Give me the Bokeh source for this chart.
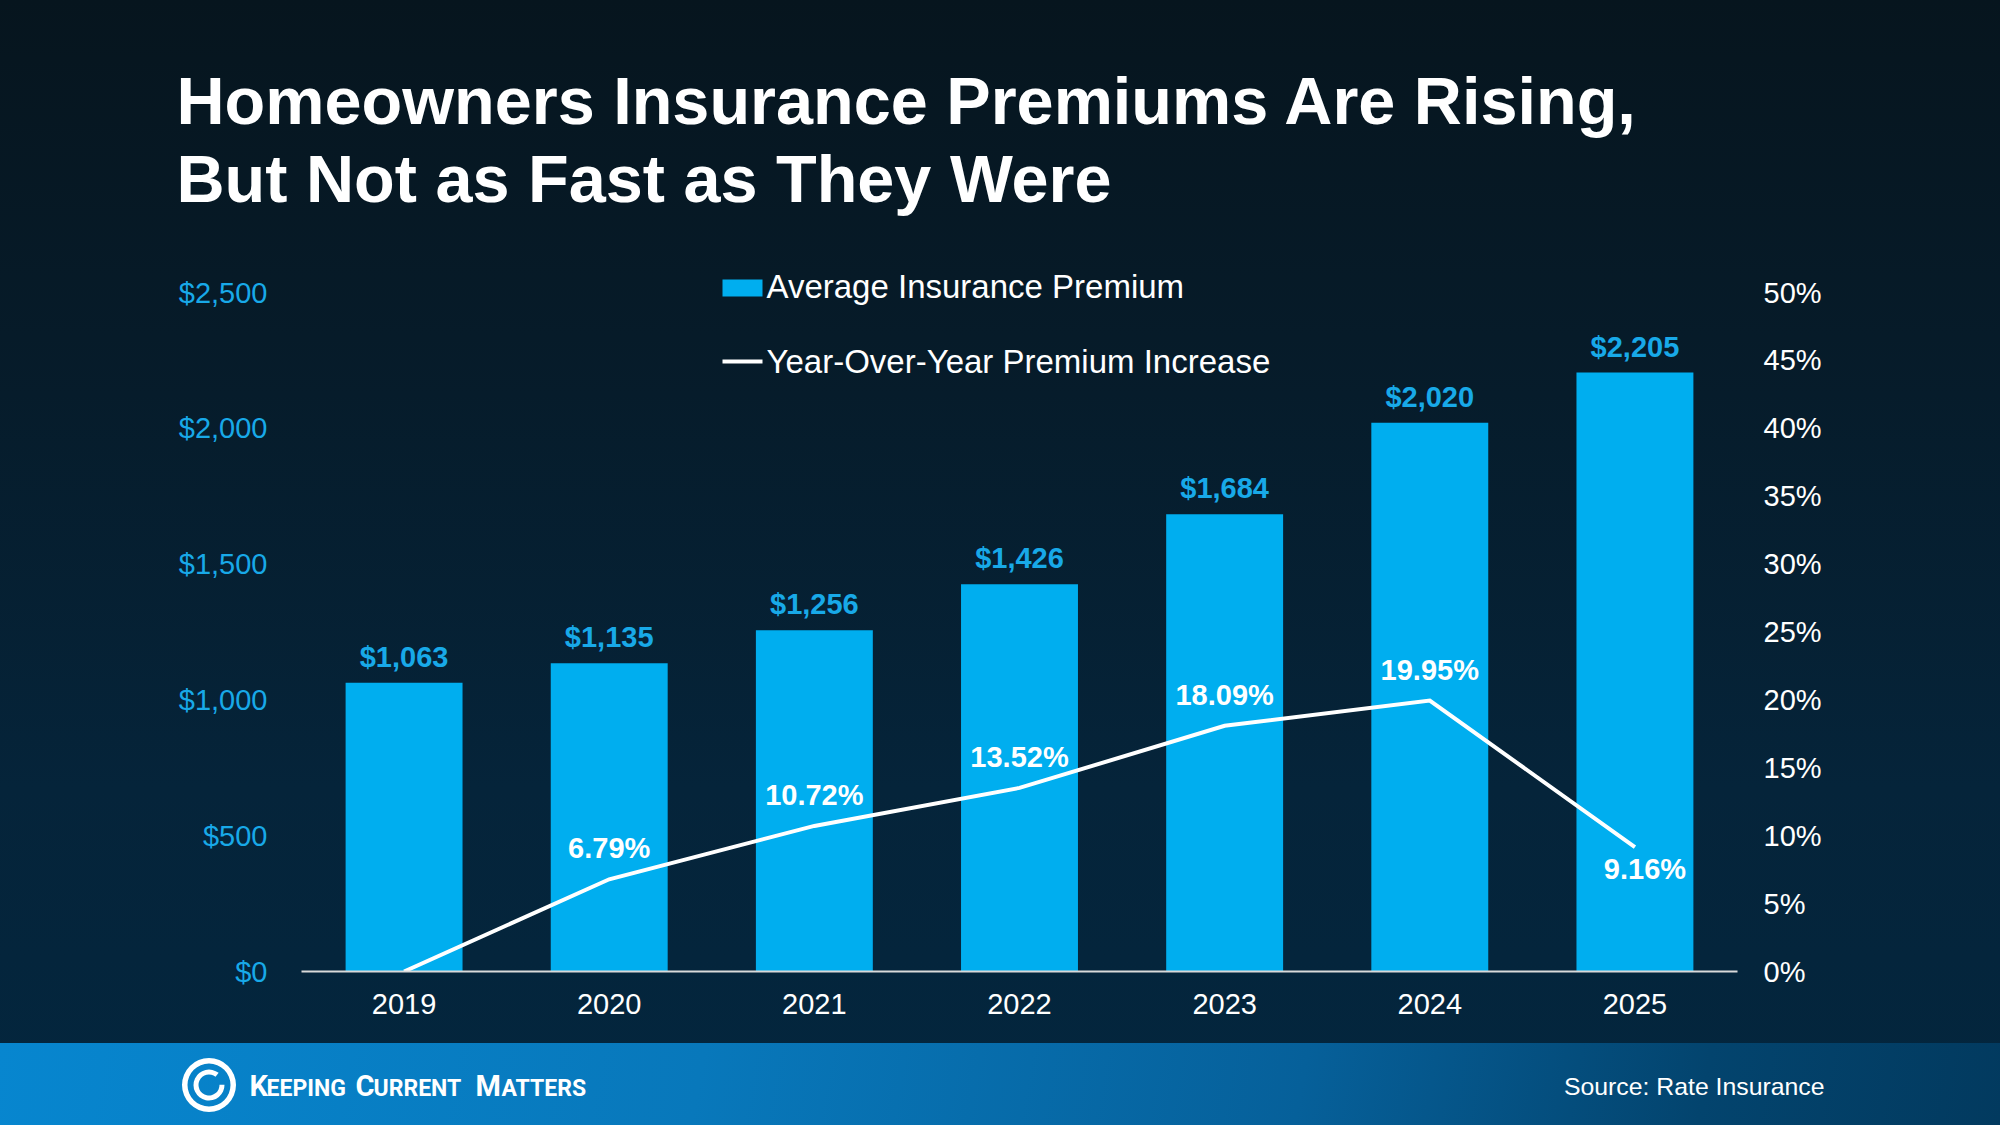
from bokeh.plotting import figure
from bokeh.layouts import column
from bokeh.models import (ColumnDataSource, Range1d, LinearAxis, FixedTicker,
                          NumeralTickFormatter, PrintfTickFormatter, LabelSet,
                          BoxAnnotation)
from bokeh.core.properties import value
from bokeh.embed import file_html
from bokeh.resources import INLINE

# ---------------- data ----------------
years = ["2019", "2020", "2021", "2022", "2023", "2024", "2025"]
premiums = [1063, 1135, 1256, 1426, 1684, 2020, 2205]
yoy_increase = [0.0, 6.79, 10.72, 13.52, 18.09, 19.95, 9.16]
premium_ticks = [0, 500, 1000, 1500, 2000, 2500]
pct_ticks = [0, 5, 10, 15, 20, 25, 30, 35, 40, 45, 50]
title_lines = ["Homeowners Insurance Premiums Are Rising,", "But Not as Fast as They Were"]
legend_labels = ["Average Insurance Premium", "Year-Over-Year Premium Increase"]
source_note = "Source: Rate Insurance"
brand_caps = ["K", "C", "M"]
brand_rest = ["EEPING", "URRENT", "ATTERS"]

# ---------------- page geometry (px) ----------------
W, H = 2000, 1125
TOP_H = 235            # title strip
FOOT_TOP = 1043        # footer band starts
FL, FR = 301, 1737     # plot frame left / right
FT, FB = 250, 971      # plot frame top / bottom (x axis line)
Y2500 = 292            # pixel row of the top tick
BLUE = "#00AEEF"
LBLUE = "#18A9E8"
FONT = "Liberation Sans"

def bare(fig):
    fig.background_fill_color = None
    fig.border_fill_color = None
    fig.outline_line_color = None
    fig.grid.visible = False
    try:
        fig.frame_align = False
    except Exception:
        pass
    return fig

# ---------------- title strip ----------------
t = bare(figure(width=W, height=TOP_H, x_range=Range1d(0, W), y_range=Range1d(TOP_H, 0),
                x_axis_location=None, y_axis_location=None, min_border=0,
                output_backend="svg", toolbar_location=None, title=None))
tsrc = ColumnDataSource(dict(x=[176, 176], y=[123.7, 201.5], text=title_lines))
t.add_layout(LabelSet(x="x", y="y", text="text", source=tsrc, text_align="left",
                      text_baseline="alphabetic", text_font=value(FONT),
                      text_font_size=value("66.6px"), text_font_style="bold",
                      text_color="white"))

# ---------------- main chart ----------------
n = len(years)
xpos = [i + 0.5 for i in range(n)]
stretch = (FB - FT) / (FB - Y2500)
MAIN_H = FOOT_TOP - TOP_H
p = bare(figure(width=W, height=MAIN_H, x_range=Range1d(0, n),
                y_range=Range1d(0, 2500 * stretch),
                output_backend="svg", toolbar_location=None, title=None,
                min_border_left=FL, min_border_right=W - FR,
                min_border_top=FT - TOP_H, min_border_bottom=FOOT_TOP - FB))
p.extra_y_ranges = {"pct": Range1d(0, 50 * stretch), "py": Range1d(FB, FT)}
p.extra_x_ranges = {"px": Range1d(FL, FR)}

src = ColumnDataSource(dict(x=xpos, premium=premiums, yoy=yoy_increase,
                            plabel=[f"${v:,}" for v in premiums]))
p.vbar(x="x", top="premium", width=0.57, source=src, fill_color=BLUE, line_color=None)
p.line(x="x", y="yoy", source=src, y_range_name="pct", line_color="white",
       line_width=4, line_join="miter")

ly = p.yaxis[0]
ly.ticker = FixedTicker(ticks=premium_ticks)
ly.formatter = NumeralTickFormatter(format="$0,0")
ry = LinearAxis(y_range_name="pct", ticker=FixedTicker(ticks=pct_ticks),
                formatter=PrintfTickFormatter(format="%d%%"))
p.add_layout(ry, "right")
xa = p.xaxis[0]
xa.ticker = FixedTicker(ticks=xpos)
xa.major_label_overrides = {x: y for x, y in zip(xpos, years)}
for ax, col, so in ((ly, LBLUE, 34), (ry, "white", 26), (xa, "white", 22)):
    ax.axis_line_color = None
    ax.major_tick_line_color = None
    ax.minor_tick_line_color = None
    ax.major_tick_out = 0
    ax.major_tick_in = 0
    ax.minor_tick_out = 0
    ax.major_label_standoff = so
    ax.major_label_text_color = col
    ax.major_label_text_font = FONT
    ax.major_label_text_font_size = "29px"
xa.axis_line_color = "#d9d9d9"
xa.axis_line_width = 2

p.add_layout(LabelSet(x="x", y="premium", text="plabel", source=src,
                      text_align="center", text_baseline="alphabetic", y_offset=16,
                      text_font=value(FONT), text_font_size=value("29px"),
                      text_font_style="bold", text_color=LBLUE))

up = [i for i in range(1, n) if yoy_increase[i] >= yoy_increase[i - 1]]
down = [i for i in range(1, n) if yoy_increase[i] < yoy_increase[i - 1]]
for idx, yoff, xoff in ((up, 21, 0), (down, -32, 10)):
    s = ColumnDataSource(dict(x=[xpos[i] for i in idx],
                              yoy=[yoy_increase[i] for i in idx],
                              lab=[f"{yoy_increase[i]:.2f}%" for i in idx]))
    p.add_layout(LabelSet(x="x", y="yoy", text="lab", source=s, y_range_name="pct",
                          text_align="center", text_baseline="alphabetic",
                          x_offset=xoff, y_offset=yoff,
                          text_font=value(FONT), text_font_size=value("29px"),
                          text_font_style="bold", text_color="white"))

# legend (swatches + labels)
p.add_layout(BoxAnnotation(left=722, right=762, top=279, bottom=296,
                           x_range_name="px", y_range_name="py",
                           fill_color=BLUE, fill_alpha=1, line_alpha=0))
p.add_layout(BoxAnnotation(left=722, right=762, top=359, bottom=363,
                           x_range_name="px", y_range_name="py",
                           fill_color="white", fill_alpha=1, line_alpha=0))
lsrc = ColumnDataSource(dict(x=[766, 766], y=[297.5, 372.5], text=legend_labels))
p.add_layout(LabelSet(x="x", y="y", text="text", source=lsrc, x_range_name="px",
                      y_range_name="py", text_align="left", text_baseline="alphabetic",
                      text_font=value(FONT), text_font_size=value("33px"),
                      text_color="white"))

# ---------------- footer strip ----------------
FOOT_H = H - FOOT_TOP
f = bare(figure(width=W, height=FOOT_H, x_range=Range1d(0, W), y_range=Range1d(H, FOOT_TOP),
                x_axis_location=None, y_axis_location=None, min_border=0,
                output_backend="svg", toolbar_location=None, title=None))
f.add_layout(LabelSet(x="x", y="y", text="text",
                      source=ColumnDataSource(dict(x=[1824], y=[1094], text=[source_note])),
                      text_align="right", text_baseline="alphabetic",
                      text_font=value(FONT), text_font_size=value("24.8px"),
                      text_color="white"))
f.add_layout(LabelSet(x="x", y="y", text="text",
                      source=ColumnDataSource(dict(x=[249, 355, 475], y=[1095.7] * 3,
                                                   text=brand_caps)),
                      text_align="left", text_baseline="alphabetic",
                      text_font=value("Roboto"), text_font_size=value("29px"),
                      text_font_style="bold", text_color="white"))
f.add_layout(LabelSet(x="x", y="y", text="text",
                      source=ColumnDataSource(dict(x=[266, 373, 501], y=[1095.7] * 3,
                                                   text=brand_rest)),
                      text_align="left", text_baseline="alphabetic",
                      text_font=value("Roboto"), text_font_size=value("23px"),
                      text_font_style="bold", text_color="white"))
# logo swirl
f.annulus(x=[208.5], y=[1084.5], inner_radius=21.5, outer_radius=27,
          fill_color="white", line_color=None)
f.annular_wedge(x=[208.5], y=[1084.5], inner_radius=10.5, outer_radius=15.5,
                start_angle=0.9, end_angle=6.3, fill_color="white", line_color=None)

page = column(t, p, f, spacing=0)
page.styles = {
    "background":
        "linear-gradient(100deg, #0786cf 0%, #0878bb 35%, #06609a 65%, #03446e 85%, #023a5f 100%) "
        "left bottom / 100% 82px no-repeat, "
        "linear-gradient(180deg, #06151e 0%, #061c2b 35%, #05243a 70%, #03263e 100%)"
}

open("out.html", "w").write(file_html(page, INLINE))
